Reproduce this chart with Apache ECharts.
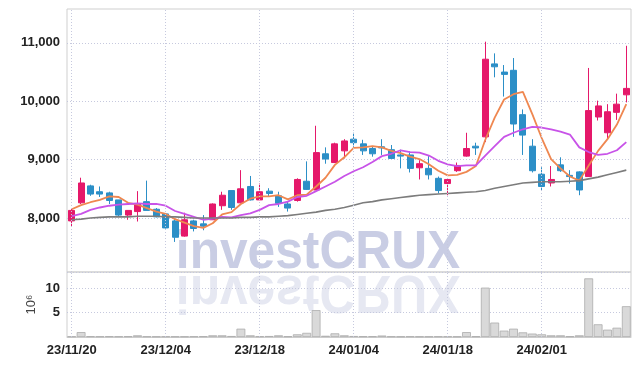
<!DOCTYPE html>
<html>
<head>
<meta charset="utf-8">
<script src="https://cdn.jsdelivr.net/npm/echarts@6/dist/echarts.min.js"></script>
<style>
html,body{margin:0;padding:0;background:#fff;}
#c{width:639px;height:366px;}
</style>
</head>
<body>
<div id="c"></div>
<script>
const dates = ['23/11/20','23/11/21','23/11/22','23/11/23','23/11/24','23/11/27','23/11/28','23/11/29','23/11/30','23/12/01',
'23/12/04','23/12/05','23/12/06','23/12/07','23/12/08','23/12/11','23/12/12','23/12/13','23/12/14','23/12/15',
'23/12/18','23/12/19','23/12/20','23/12/21','23/12/22','23/12/26','23/12/27','23/12/28','24/01/02','24/01/03',
'24/01/04','24/01/05','24/01/08','24/01/09','24/01/10','24/01/11','24/01/12','24/01/15','24/01/16','24/01/17',
'24/01/18','24/01/19','24/01/22','24/01/23','24/01/24','24/01/25','24/01/26','24/01/29','24/01/30','24/01/31',
'24/02/01','24/02/02','24/02/05','24/02/06','24/02/07','24/02/08','24/02/13','24/02/14','24/02/15','24/02/16'];

const openP  = [7950,8260,8550,8450,8430,8310,8050,8110,8280,8150, 8070,7950,7690,7950,7900,7970,8210,8470,8260,8540,
                8310,8460,8380,8240,8300,8630,8480,9100,8950,9150, 9350,9270,9190,9220,9170,9080,9080,8860,8850,8680,
                8590,8810,9060,9230,9390,10640,10500,10530,9770,9230, 8750,8600,8910,8730,8790,8710,9730,9460,9810,10110];
const closeP = [8130,8600,8410,8410,8300,8050,8130,8240,8130,8020, 7830,7670,7970,7820,7860,8240,8390,8180,8500,8310,
                8450,8420,8250,8170,8660,8490,9120,9010,9270,9320, 9290,9150,9100,9200,9020,9060,8850,8930,8740,8470,
                8660,8900,9190,9200,10720,10590,10460,9610,9420,8810, 8540,8660,8810,8710,8480,9840,9920,9820,9950,10220];
const lowP   = [7860,8240,8380,8360,8240,8030,7970,7940,8130,8010, 7820,7590,7680,7770,7790,7970,8140,8140,8250,8300,
                8310,8370,8190,8110,8280,8480,8480,8930,8940,9020, 9220,9080,9050,9080,9010,8850,8780,8660,8660,8420,
                8390,8790,9050,9080,9300,10410,10080,9390,9080,8780, 8470,8540,8790,8590,8390,8710,9670,9340,9680,9980];
const highP  = [8170,8690,8570,8540,8450,8310,8130,8460,8640,8170, 8080,7980,8090,7970,8050,8250,8450,8470,8820,8720,
                8590,8510,8450,8280,8680,8970,9580,9210,9290,9350, 9460,9340,9230,9350,9250,9170,9140,8990,9060,8710,
                8680,8950,9460,9290,11020,10820,10620,10740,9860,9350, 8870,8890,9040,8820,8800,10570,10010,9950,10130,10950];

const ma5  = [8150,8220,8270,8310,8370,8360,8260,8230,8170,8110, 8070,7980,7920,7860,7830,7910,8060,8100,8240,8330,
              8370,8370,8390,8320,8390,8400,8540,8690,8910,9040, 9200,9210,9230,9210,9150,9110,9050,9010,8920,8810,
              8730,8740,8790,8890,9340,9720,10030,10120,10160,9780, 9370,9010,8850,8710,8640,8900,9150,9350,9600,9950];
const ma10 = [8030,8070,8140,8180,8210,8230,8240,8250,8240,8240, 8210,8120,8070,8020,7970,7990,8020,8010,8050,8080,
              8140,8220,8240,8280,8360,8380,8460,8540,8620,8720, 8800,8870,8960,9060,9100,9160,9130,9120,9070,8980,
              8920,8890,8900,8900,9070,9230,9390,9460,9520,9560, 9550,9520,9480,9430,9210,9130,9080,9100,9160,9300];
const ma60 = [7970,7980,8000,8010,8020,8020,8020,8030,8030,8030, 8020,8020,8010,8000,8000,8000,8000,8000,8010,8010,
              8020,8020,8030,8040,8060,8080,8100,8130,8150,8180, 8220,8260,8280,8310,8330,8350,8370,8390,8400,8410,
              8420,8430,8440,8450,8470,8510,8540,8570,8600,8610, 8620,8620,8620,8630,8640,8670,8700,8740,8780,8820];

// volume in millions of shares
const volume = [0.12,1.0,0.15,0.12,0.15,0.12,0.15,0.35,0.12,0.1, 0.12,0.1,0.1,0.12,0.15,0.35,0.35,0.2,1.7,0.35,
                0.15,0.2,0.35,0.15,0.55,0.85,5.5,0.25,0.75,0.35, 0.2,0.15,0.15,0.3,0.12,0.1,0.12,0.1,0.1,0.12,
                0.12,0.1,1.0,0.15,10.1,2.95,1.3,1.7,0.95,0.7, 0.55,0.35,0.35,0.15,0.35,12.0,2.6,1.5,1.9,6.3];

const priceTicks = [8000, 9000, 10000, 11000];
const labelIdx = [0, 10, 20, 30, 40, 50];

const candleData = dates.map((d, i) => [openP[i], closeP[i], lowP[i], highP[i]]);

const gridColor = '#c6c9de';
const labelFont = "'Liberation Sans Narrow','Liberation Sans',sans-serif";
const vLines = {
  silent: true, symbol: ['none', 'none'], label: {show: false},
  lineStyle: {type: [1, 2], color: gridColor, width: 1},
  emphasis: {disabled: true},
  data: labelIdx.map(i => ({xAxis: i}))
};

const chart = echarts.init(document.getElementById('c'), null, {renderer: 'canvas'});
chart.setOption({
  animation: false,
  backgroundColor: '#fff',
  grid: [
    {left: 67, right: 8, top: 9, height: 263, show: true, borderColor: '#cfcfcf', borderWidth: 1},
    {left: 67, right: 8, top: 272, height: 65, show: true, borderColor: '#cfcfcf', borderWidth: 1}
  ],
  graphic: [
    {type: 'text', x: 318, y: 253, scaleX: 0.92, z: -10, silent: true,
     style: {text: 'investCRUX', font: "bold 54px 'Liberation Sans', Arial, sans-serif", fill: '#c9cde4', align: 'center', verticalAlign: 'middle'}},
    {type: 'text', x: 318, y: 291, scaleX: 0.92, scaleY: -1, z: -10, silent: true,
     style: {text: 'investCRUX', font: "bold 54px 'Liberation Sans', Arial, sans-serif", fill: '#e6e8f2', align: 'center', verticalAlign: 'middle'}}
  ],
  xAxis: [
    {type: 'category', gridIndex: 0, data: dates, boundaryGap: true,
     axisLine: {show: false}, axisTick: {show: false}, axisLabel: {show: false}, splitLine: {show: false}},
    {type: 'category', gridIndex: 1, data: dates, boundaryGap: true,
     axisLine: {show: true, lineStyle: {color: '#cfcfcf'}}, axisTick: {show: false},
     axisLabel: {interval: 9, margin: 7, color: '#222', fontSize: 13, fontWeight: 'bold', fontFamily: labelFont},
     splitLine: {show: false}}
  ],
  yAxis: [
    {type: 'value', gridIndex: 0, min: 7075, max: 11580, scale: true,
     axisLine: {show: false},
     axisTick: {show: false, customValues: priceTicks},
     axisLabel: {customValues: priceTicks, margin: 7, color: '#222', fontSize: 13, fontWeight: 'bold', fontFamily: labelFont,
                 formatter: v => v.toLocaleString('en-US')},
     splitLine: {show: true, lineStyle: {type: [1, 2], color: gridColor, width: 1}}},
    {type: 'value', gridIndex: 1, min: 0, max: 13.3, interval: 5,
     name: '10⁶', nameLocation: 'middle', nameRotate: 90, nameGap: 29, nameMoveOverlap: false,
     nameTextStyle: {color: '#444', fontSize: 13, fontFamily: "'Liberation Sans', sans-serif"},
     axisLine: {show: false}, axisTick: {show: false},
     axisLabel: {showMinLabel: false, showMaxLabel: false, margin: 7, color: '#222', fontSize: 13, fontWeight: 'bold', fontFamily: labelFont},
     splitLine: {show: true, lineStyle: {type: [1, 2], color: gridColor, width: 1}}}
  ],
  series: [
    {type: 'candlestick', name: 'price', xAxisIndex: 0, yAxisIndex: 0, data: candleData, barWidth: '68%',
     itemStyle: {color: '#e5186a', color0: '#2c8fc7', borderColor: '#e5186a', borderColor0: '#2c8fc7', borderWidth: 1},
     markLine: vLines},
    {type: 'line', name: 'MA5', xAxisIndex: 0, yAxisIndex: 0, data: ma5, symbol: 'none',
     lineStyle: {color: '#ef8750', width: 1.8}},
    {type: 'line', name: 'MA10', xAxisIndex: 0, yAxisIndex: 0, data: ma10, symbol: 'none',
     lineStyle: {color: '#c853e8', width: 1.8}},
    {type: 'line', name: 'MA60', xAxisIndex: 0, yAxisIndex: 0, data: ma60, symbol: 'none',
     lineStyle: {color: '#7c7c7c', width: 1.6}},
    {type: 'bar', name: 'volume', xAxisIndex: 1, yAxisIndex: 1, data: volume, barCategoryGap: '6%',
     itemStyle: {color: '#d9d9d9', borderColor: '#acacac', borderWidth: 0.8},
     markLine: vLines}
  ]
});
</script>
</body>
</html>
